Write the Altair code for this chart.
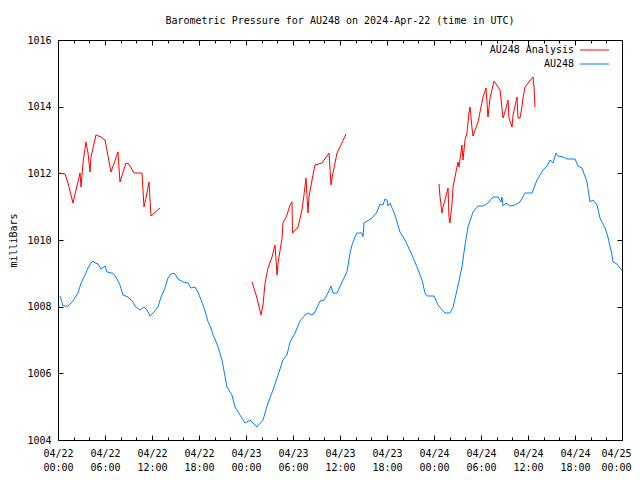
import altair as alt
import pandas as pd

# ---------------- data (hours since 2024-04-22 00:00 UTC, millibars) ----------------
obs_hours = [0.26, 0.64, 1.28, 1.91, 2.55, 2.94, 3.45, 3.83, 4.21, 4.47, 4.72, 5.11, 5.49, 6.0,
             6.26, 7.02, 7.40, 7.91, 8.30, 8.94, 9.57, 9.83, 10.47, 10.98, 11.36, 11.74, 12.13,
             12.77, 13.15, 13.66, 14.04, 14.43, 14.68, 14.94, 15.32, 15.96, 16.6, 16.98, 17.49,
             17.87, 18.26, 18.77, 19.15, 19.53, 19.79, 20.04, 20.43, 20.94, 21.57, 22.21, 22.6,
             23.23, 23.87, 24.51, 25.4, 26.17, 26.81, 27.45, 28.09, 28.72, 29.23, 29.62, 30.26,
             30.89, 31.53, 31.91, 32.43, 32.81, 33.45, 33.96, 34.47, 34.85, 35.11, 35.62, 36.26,
             36.89, 37.28, 37.53, 37.91, 38.17, 38.81, 38.94, 39.06, 40.09, 40.72, 41.11, 41.49,
             41.74, 42.0, 42.13, 42.38, 43.02, 43.66, 44.3, 45.19, 45.83, 46.47, 46.85, 47.11,
             48.0, 48.51, 49.4, 50.04, 50.43, 50.94, 51.57, 51.96, 52.34, 52.98, 53.62, 54.26,
             54.89, 55.53, 56.17, 56.55, 56.68, 56.81, 57.19, 57.7, 58.34, 58.98, 59.62, 60.51,
             61.15, 61.91, 62.43, 62.81, 63.19, 63.57, 63.83, 64.47, 64.98, 66.0, 66.38, 66.89,
             67.53, 67.91, 68.3, 68.81, 69.19, 69.83, 70.21, 70.72, 70.85, 71.36, 71.74, 72.0]
obs_mb = [1008.32, 1008.02, 1008.02, 1008.17, 1008.41, 1008.71, 1008.95, 1009.16, 1009.31,
          1009.37, 1009.31, 1009.28, 1009.13, 1009.22, 1009.04, 1009.0, 1008.89, 1008.65,
          1008.35, 1008.29, 1008.14, 1008.02, 1007.9, 1007.99, 1007.9, 1007.72, 1007.81,
          1007.99, 1008.29, 1008.56, 1008.86, 1008.98, 1009.0, 1008.98, 1008.83, 1008.74,
          1008.71, 1008.56, 1008.59, 1008.44, 1008.2, 1007.87, 1007.55, 1007.36, 1007.15,
          1007.03, 1006.79, 1006.4, 1005.59, 1005.35, 1004.99, 1004.75, 1004.51, 1004.6,
          1004.39, 1004.6, 1005.11, 1005.5, 1005.95, 1006.4, 1006.55, 1006.94, 1007.21,
          1007.57, 1007.75, 1007.81, 1007.75, 1007.84, 1008.17, 1008.2, 1008.41, 1008.62,
          1008.41, 1008.41, 1008.74, 1009.05, 1009.61, 1009.85, 1010.09, 1010.21, 1010.21,
          1010.1, 1010.51, 1010.66, 1010.84, 1011.08, 1011.05, 1011.23, 1011.2, 1011.02,
          1011.11, 1010.75, 1010.24, 1010.0, 1009.55, 1009.19, 1008.8, 1008.41, 1008.32,
          1008.32, 1008.05, 1007.81, 1007.81, 1007.99, 1008.5, 1009.19, 1009.85, 1010.39,
          1010.84, 1011.02, 1011.02, 1011.11, 1011.29, 1011.29, 1011.14, 1011.29, 1011.02,
          1011.11, 1011.02, 1011.05, 1011.14, 1011.41, 1011.41, 1011.8, 1012.1, 1012.22,
          1012.4, 1012.31, 1012.61, 1012.52, 1012.49, 1012.43, 1012.43, 1012.22, 1012.16,
          1011.74, 1011.14, 1011.2, 1011.05, 1010.66, 1010.36, 1010.09, 1009.55, 1009.34,
          1009.28, 1009.16, 1009.1]

ana1_hours = [0.0, 0.89, 1.28, 1.91, 2.3, 2.81, 2.94, 3.19, 3.57, 3.83, 4.09, 4.21, 4.85, 5.49,
              6.0, 6.77, 7.66, 7.91, 8.68, 9.06, 9.70, 10.72, 10.98, 11.23, 11.62, 11.87, 13.02]
ana1_mb = [1012.01, 1011.98, 1011.71, 1011.11, 1011.5, 1012.01, 1011.59, 1012.31, 1012.94,
           1012.61, 1012.04, 1012.49, 1013.15, 1013.09, 1013.0, 1012.04, 1012.64, 1011.74,
           1012.31, 1012.28, 1012.01, 1012.01, 1010.99, 1011.26, 1011.74, 1010.72, 1010.96]

ana2_hours = [24.77, 25.4, 25.91, 26.17, 26.43, 26.81, 27.32, 27.7, 27.96, 28.09, 28.6, 28.72,
              29.23, 29.62, 29.87, 29.94, 30.64, 31.15, 31.4, 31.66, 31.91, 32.04, 32.55, 32.81,
              33.7, 34.6, 34.85, 34.98, 35.62, 36.0, 36.77]
ana2_mb = [1008.74, 1008.26, 1007.75, 1008.05, 1008.71, 1009.16, 1009.49, 1009.85, 1008.95,
           1009.31, 1010.06, 1010.51, 1010.75, 1011.05, 1011.14, 1010.21, 1010.39, 1010.9,
           1011.35, 1011.86, 1010.81, 1011.29, 1011.95, 1012.25, 1012.31, 1012.61, 1011.65,
           1011.86, 1012.61, 1012.79, 1013.18]

ana3_hours = [48.64, 48.77, 49.02, 49.15, 49.4, 49.79, 49.91, 50.04, 50.3, 50.43, 50.68, 51.06,
              51.19, 51.57, 51.7, 51.96, 52.21, 52.47, 52.6, 52.85, 52.98, 53.62, 54.26, 54.64,
              54.89, 55.15, 55.66, 56.43, 56.81, 57.06, 57.45, 57.57, 57.96, 58.09, 58.6, 58.72,
              58.98, 59.23, 59.36, 59.62, 60.64, 60.77, 60.89]
ana3_mb = [1011.68, 1011.29, 1010.81, 1010.99, 1011.2, 1011.56, 1010.69, 1010.51, 1011.11,
           1011.59, 1011.89, 1012.34, 1012.19, 1012.85, 1012.4, 1013.0, 1013.21, 1013.81,
           1013.99, 1013.36, 1013.12, 1013.54, 1014.29, 1014.56, 1013.69, 1014.26, 1014.77,
           1014.5, 1013.66, 1013.84, 1014.2, 1013.66, 1013.39, 1013.75, 1014.29, 1013.66,
           1013.66, 1013.99, 1014.26, 1014.59, 1014.89, 1014.59, 1013.99]

series_names = ["AU248 Analysis", "AU248"]
series_colors = ["#ff0000", "#0080ff"]
major_ticks = list(range(0, 73, 6))
minor_ticks = list(range(0, 73, 2))
y_ticks = [1004, 1006, 1008, 1010, 1012, 1014, 1016]

# ---------------- table ----------------
rows = []
for h, v in zip(obs_hours, obs_mb):
    rows.append({"hours": h, "mb": v, "series": "AU248", "seg": "obs"})
for name, hs, vs in [("a1", ana1_hours, ana1_mb), ("a2", ana2_hours, ana2_mb), ("a3", ana3_hours, ana3_mb)]:
    for h, v in zip(hs, vs):
        rows.append({"hours": h, "mb": v, "series": "AU248 Analysis", "seg": name})
df = pd.DataFrame(rows)

FONT = "DejaVu Sans Mono"
xscale = alt.Scale(domain=[0, 72], nice=False, zero=False)
yscale = alt.Scale(domain=[1004, 1016], nice=False, zero=False)

label_expr = ("['04/' + (22 + floor(datum.value / 24)), "
              "(datum.value % 24 < 10 ? '0' : '') + (datum.value % 24) + ':00']")

lines = alt.Chart(df).mark_line(strokeWidth=1).encode(
    x=alt.X("hours:Q", scale=xscale,
            axis=alt.Axis(orient="bottom", values=major_ticks, offset=-5, tickSize=5,
                          domain=False, grid=False, labelExpr=label_expr, labelPadding=8,
                          labelLineHeight=14, labelFlush=False, labelOverlap=False,
                          labelOffset={"condition": {"test": "datum.value == 72", "value": -6},
                                       "value": 0},
                          title=None)),
    y=alt.Y("mb:Q", scale=yscale,
            axis=alt.Axis(orient="left", values=y_ticks, offset=-5, tickSize=5, domain=False,
                          grid=False, format="d", labelPadding=7, title="milliBars",
                          labelFlush=False, labelOverlap=False,
                          titleFontWeight="normal", titlePadding=8)),
    color=alt.Color("series:N", scale=alt.Scale(domain=series_names, range=series_colors),
                    legend=None),
    detail="seg:N",
)

ghost = alt.Chart(df).mark_line(strokeOpacity=0)

bottom_minor = ghost.encode(
    x=alt.X("hours:Q", scale=xscale,
            axis=alt.Axis(orient="bottom", values=minor_ticks, offset=-3, tickSize=3,
                          domain=False, grid=False, labels=False, title=None)),
    y=alt.Y("mb:Q", scale=yscale,
            axis=alt.Axis(orient="right", values=y_ticks, offset=-5, tickSize=5, domain=False,
                          grid=False, labels=False, title=None)),
    detail="seg:N",
)
top_major = ghost.encode(
    x=alt.X("hours:Q", scale=xscale,
            axis=alt.Axis(orient="top", values=major_ticks, offset=-5, tickSize=5,
                          domain=False, grid=False, labels=False, title=None)),
    y=alt.Y("mb:Q", scale=yscale, axis=None),
    detail="seg:N",
)
top_minor = ghost.encode(
    x=alt.X("hours:Q", scale=xscale,
            axis=alt.Axis(orient="top", values=minor_ticks, offset=-3, tickSize=3,
                          domain=False, grid=False, labels=False, title=None)),
    y=alt.Y("mb:Q", scale=yscale, axis=None),
    detail="seg:N",
)

# ---- gnuplot-style key: label on the left, line sample on the right ----
key_layers = []
for i, (name, col) in enumerate(zip(series_names, series_colors)):
    key_df = pd.DataFrame({"name": [name]})
    ky = 10 + 14 * i
    key_layers.append(
        alt.Chart(key_df).mark_text(align="right", baseline="middle", font=FONT, fontSize=10,
                                    color="black").encode(
            x=alt.value(516), y=alt.value(ky), text="name:N")
    )
    key_layers.append(
        alt.Chart(key_df).mark_rule(color=col, strokeWidth=1).encode(
            x=alt.value(522), x2=alt.value(551), y=alt.value(ky))
    )

chart = alt.layer(lines, bottom_minor, top_major, top_minor, *key_layers).resolve_axis(
    x="independent", y="independent"
).properties(
    width=564, height=400,
    title=alt.Title("Barometric Pressure for AU248 on 2024-Apr-22 (time in UTC)",
                    font=FONT, fontSize=10, fontWeight="normal", offset=9, color="black"),
    autosize=alt.AutoSizeParams(type="none"),
    padding={"left": 50, "top": 32, "right": 10, "bottom": 32},
).configure_axis(
    labelFont=FONT, labelFontSize=10, titleFont=FONT, titleFontSize=10,
    tickColor="black", labelColor="black", titleColor="black", tickWidth=1,
).configure_view(stroke="black", strokeWidth=1)

chart.save("out.html", embed_options={"renderer": "svg", "actions": False})
